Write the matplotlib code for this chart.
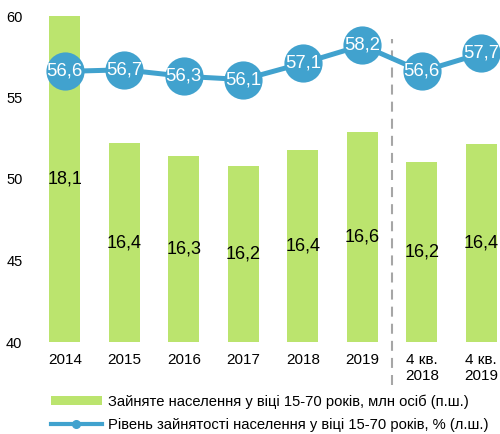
import matplotlib

matplotlib.use("Agg")
import matplotlib.pyplot as plt
from matplotlib.lines import Line2D
from matplotlib.patches import Patch

plt.rcParams["font.family"] = ["Liberation Sans", "DejaVu Sans"]

categories = ["2014", "2015", "2016", "2017", "2018", "2019", "4 кв.\n2018", "4 кв.\n2019"]
employed_mln = [18.07, 16.44, 16.28, 16.16, 16.36, 16.58, 16.21, 16.43]
employment_rate = [56.6, 56.7, 56.3, 56.1, 57.1, 58.2, 56.6, 57.7]
left_ticks = [40, 45, 50, 55, 60]

bar_label = "Зайняте населення у віці 15-70 років, млн осіб (п.ш.)"
line_label = "Рівень зайнятості населення у віці 15-70 років, % (л.ш.)"

GREEN = "#bbe46e"
BLUE = "#41a2ce"

fig = plt.figure(figsize=(5.0, 4.34), dpi=100)
rect = [35 / 500, 92 / 434, 465 / 500, 326 / 434]
xs = list(range(len(categories)))

# bars live on a hidden right-hand scale
ax_bar = fig.add_axes(rect)
bar_lo, bar_hi = 14, 18
ax_bar.bar(xs, [v - bar_lo for v in employed_mln], bottom=bar_lo, width=0.52, color=GREEN)
ax_bar.set_ylim(bar_lo, bar_hi)
ax_bar.set_xlim(-0.5, 7.315)
ax_bar.axis("off")
for x, v in zip(xs, employed_mln):
    mid = (bar_lo + min(v, bar_hi)) / 2
    ax_bar.text(x, mid, f"{v:.1f}".replace(".", ","), ha="center", va="center",
                fontsize=13, color="black")

# employment rate on the visible left scale
ax = fig.add_axes(rect)
ax.patch.set_visible(False)
ax.plot(xs, employment_rate, color=BLUE, lw=3.6, marker="o", markersize=27.5,
        markeredgewidth=0, zorder=3)
for x, v in zip(xs, employment_rate):
    ax.text(x, v, f"{v:.1f}".replace(".", ","), ha="center", va="center",
            fontsize=13.3, color="white", zorder=4)
ax.axvline(5.5, ymin=-0.132, ymax=0.929, color="#a6a6a6", lw=1.5,
           dashes=(4.8, 3.4), clip_on=False)
ax.set_ylim(40, 60)
ax.set_xlim(-0.5, 7.315)
ax.set_yticks(left_ticks)
ax.set_xticks(xs)
ax.set_xticklabels(categories, linespacing=1.2)
ax.tick_params(axis="y", length=0, pad=9, labelsize=10.5)
ax.tick_params(axis="x", length=0, pad=8, labelsize=11)
for s in ax.spines.values():
    s.set_visible(False)

handles = [
    Patch(facecolor=GREEN, edgecolor="none"),
    Line2D([], [], color=BLUE, lw=3, marker="o", markersize=5.5),
]
fig.legend(handles, [bar_label, line_label], loc="lower left",
           bbox_to_anchor=(51 / 500, 2 / 434), frameon=False, fontsize=10.6,
           handlelength=3.45, handletextpad=0.4, labelspacing=0.62,
           handleheight=0.6, borderpad=0, borderaxespad=0)

fig.savefig("out.png", dpi=100)
